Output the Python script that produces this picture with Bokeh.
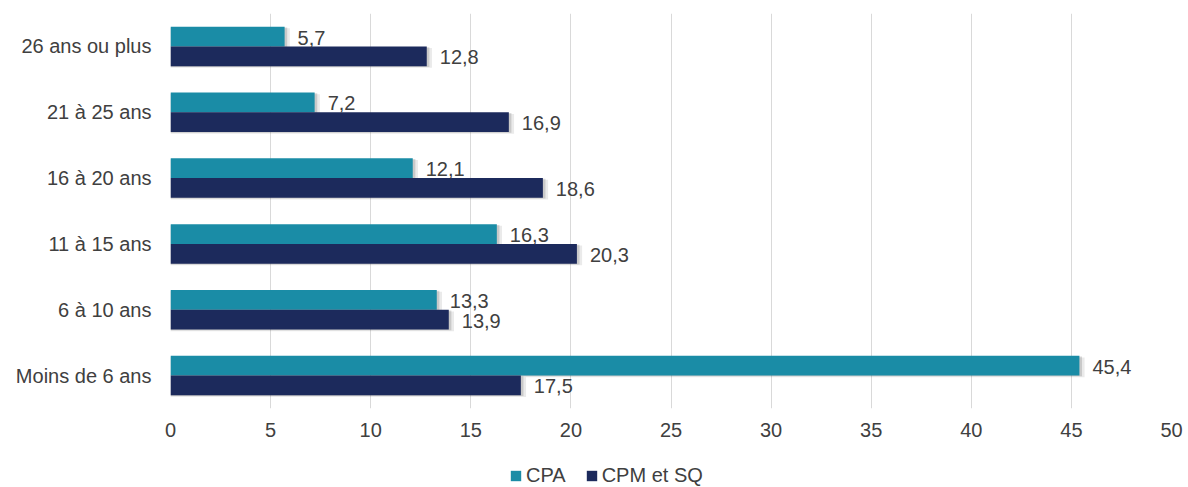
from bokeh.plotting import figure
from bokeh.layouts import column
from bokeh.models import FactorRange, Range1d, FixedTicker, Legend, LegendItem, ColumnDataSource
from bokeh.transform import dodge
from bokeh.embed import file_html
from bokeh.resources import INLINE

categories = ["Moins de 6 ans", "6 à 10 ans", "11 à 15 ans", "16 à 20 ans", "21 à 25 ans", "26 ans ou plus"]
cpa = [45.4, 13.3, 16.3, 12.1, 7.2, 5.7]
cpm = [17.5, 13.9, 20.3, 18.6, 16.9, 12.8]
x_ticks = [0, 5, 10, 15, 20, 25, 30, 35, 40, 45, 50]
series_names = ["CPA", "CPM et SQ"]

TEAL = "#1a8ca6"
NAVY = "#1c2a5c"
TXT = "#404040"
FONT = "Liberation Sans"
FS = "20px"

def fmt(v):
    return f"{v:.1f}".replace(".", ",")

src = ColumnDataSource(dict(
    cat=categories,
    cpa=cpa,
    cpm=cpm,
    cpa_s1=[v + 0.26 for v in cpa],
    cpm_s1=[v + 0.26 for v in cpm],
    cpa_s2=[v + 0.13 for v in cpa],
    cpm_s2=[v + 0.13 for v in cpm],
    cpa_lbl=[fmt(v) for v in cpa],
    cpm_lbl=[fmt(v) for v in cpm],
))

p = figure(frame_width=1001, frame_height=395, output_backend="svg", toolbar_location=None,
           y_range=FactorRange(factors=categories, range_padding=0),
           x_range=Range1d(0, 50),
           min_border_left=170, min_border_right=17, min_border_top=13, min_border_bottom=47)

p.outline_line_color = None
p.background_fill_color = "white"
p.border_fill_color = "white"

bh = 0.3
# soft shadows behind the bars
for key_s, off, alpha in [("_s1", 0.025, 0.12), ("_s2", 0.012, 0.22)]:
    p.hbar(y=dodge("cat", 0.15 - off, range=p.y_range), left=0, right="cpa" + key_s, height=bh,
           source=src, fill_color="#555555", fill_alpha=alpha, line_color=None)
    p.hbar(y=dodge("cat", -0.15 - off, range=p.y_range), left=0, right="cpm" + key_s, height=bh,
           source=src, fill_color="#555555", fill_alpha=alpha, line_color=None)

r1 = p.hbar(y=dodge("cat", 0.15, range=p.y_range), left=0, right="cpa", height=bh,
            source=src, fill_color=TEAL, line_color=None)
r2 = p.hbar(y=dodge("cat", -0.15, range=p.y_range), left=0, right="cpm", height=bh,
            source=src, fill_color=NAVY, line_color=None)

p.text(x="cpa", y=dodge("cat", 0.15, range=p.y_range), text="cpa_lbl", source=src,
       x_offset=13, y_offset=1, text_baseline="middle", text_align="left",
       text_font_size=FS, text_color=TXT, text_font={"value": FONT})
p.text(x="cpm", y=dodge("cat", -0.15, range=p.y_range), text="cpm_lbl", source=src,
       x_offset=13, y_offset=1, text_baseline="middle", text_align="left",
       text_font_size=FS, text_color=TXT, text_font={"value": FONT})

p.xaxis.ticker = FixedTicker(ticks=x_ticks)
p.xaxis.axis_line_color = None
p.xaxis.major_tick_line_color = None
p.xaxis.minor_tick_line_color = None
p.xaxis.major_tick_out = 0
p.xaxis.major_tick_in = 0
p.xaxis.major_label_standoff = 14
p.xaxis.major_label_text_font_size = FS
p.xaxis.major_label_text_color = TXT
p.xaxis.major_label_text_font = FONT

p.yaxis.axis_line_color = None
p.yaxis.major_tick_line_color = None
p.yaxis.minor_tick_line_color = None
p.yaxis.major_tick_out = 0
p.yaxis.major_tick_in = 0
p.yaxis.major_label_standoff = 19
p.yaxis.major_label_text_font_size = FS
p.yaxis.major_label_text_color = TXT
p.yaxis.major_label_text_font = FONT

p.ygrid.grid_line_color = None
p.xgrid.grid_line_color = "#d9d9d9"
p.xgrid.grid_line_width = 1

# legend strip below the chart
pl = figure(width=1188, height=32, output_backend="svg", toolbar_location=None,
            x_range=Range1d(0, 1), y_range=Range1d(0, 1),
            x_axis_location=None, y_axis_location=None, min_border=0)
pl.outline_line_color = None
pl.xgrid.grid_line_color = None
pl.ygrid.grid_line_color = None
lsrc = ColumnDataSource(dict(y=[-10], right=[-10]))
l1 = pl.hbar(y="y", right="right", left=-11, height=0.1, source=lsrc, fill_color=TEAL, line_color=None)
l2 = pl.hbar(y="y", right="right", left=-11, height=0.1, source=lsrc, fill_color=NAVY, line_color=None)
legend = Legend(items=[LegendItem(label=series_names[0], renderers=[l1]),
                       LegendItem(label=series_names[1], renderers=[l2])],
                orientation="horizontal", location=(339, 0),
                glyph_width=13, glyph_height=13, label_text_font_size=FS,
                label_text_color=TXT, label_text_font=FONT, label_standoff=4,
                spacing=19, padding=0, margin=0, border_line_color=None,
                background_fill_alpha=0)
pl.add_layout(legend, "center")

layout = column(p, pl, spacing=0)
open("out.html", "w").write(file_html(layout, INLINE))
